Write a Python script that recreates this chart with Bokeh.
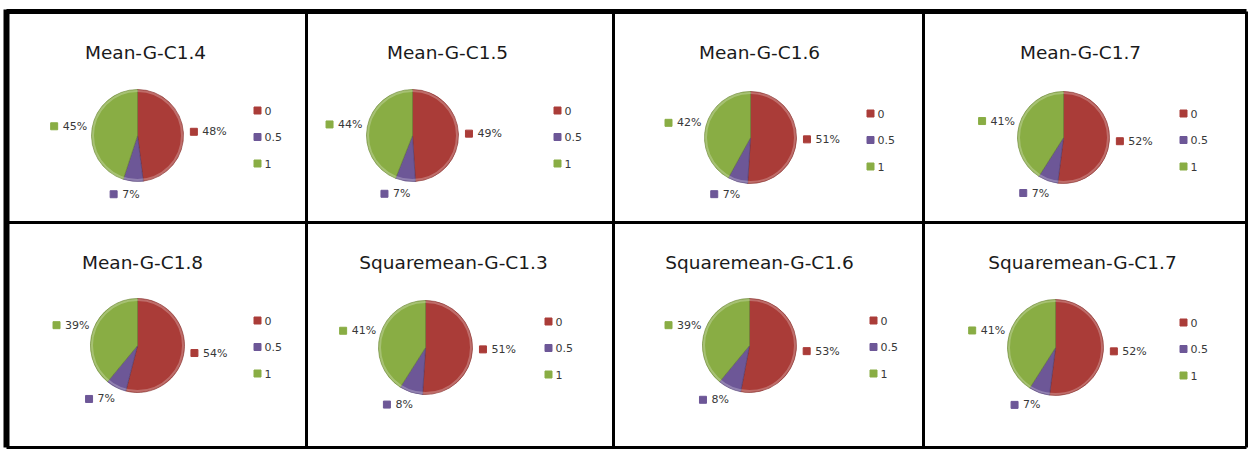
import math
from bokeh.plotting import figure
from bokeh.models import Range1d, ColumnDataSource
from bokeh.core.properties import value
from bokeh.embed import file_html
from bokeh.resources import INLINE

# ---- data ----
titles = ["Mean-G-C1.4", "Mean-G-C1.5", "Mean-G-C1.6", "Mean-G-C1.7",
          "Mean-G-C1.8", "Squaremean-G-C1.3", "Squaremean-G-C1.6", "Squaremean-G-C1.7"]
categories = ["0", "0.5", "1"]
share_0 = [48, 49, 51, 52, 54, 51, 53, 52]
share_05 = [7, 7, 7, 7, 7, 8, 8, 7]
share_1 = [45, 44, 42, 41, 39, 41, 39, 41]

# ---- layout (pixel positions, y measured from the top) ----
pie_cx = [137, 412, 750, 1063, 137, 425, 749, 1055]
pie_cy = [135, 135, 137, 137, 345, 347, 345, 347]
pie_r = [46, 46, 46, 46, 47, 47, 47, 48]
title_x = [145, 447, 759, 1080, 142, 453, 759, 1082]
title_y = [52, 52, 52, 52, 262, 262, 262, 262]
leg_x = [257, 557, 870, 1183, 257, 548, 873, 1183]
leg_y = [110, 110, 113, 113, 320, 321, 320, 322]
col_edges = [6, 306, 613, 923, 1246]
row_edges = [11, 222, 447]

colors = ["#AA3C38", "#6D5797", "#89AD44"]
edge_colors = ["#7E2A27", "#4E3C70", "#647F2F"]

W, H = 1250, 450
p = figure(width=W, height=H, x_range=Range1d(0, W), y_range=Range1d(0, H),
           output_backend="svg", toolbar_location=None, min_border=0)
p.axis.visible = False
p.grid.visible = False
p.outline_line_color = None
p.background_fill_color = "white"
p.border_fill_color = "white"

FY = lambda y: H - y
font = value("DejaVu Sans")

wed = dict(x=[], y=[], r=[], s=[], e=[], c=[], lc=[])
lab_sq = dict(x=[], y=[], c=[])
lab_tx = dict(x=[], y=[], t=[])
leg_sq = dict(x=[], y=[], c=[])
leg_tx = dict(x=[], y=[], t=[])
tit = dict(x=[], y=[], t=[])

for i in range(len(titles)):
    vals = [share_0[i], share_05[i], share_1[i]]
    tot = float(sum(vals))
    cum = 0.0
    cx, cy, r = pie_cx[i], pie_cy[i], pie_r[i]
    for k, v in enumerate(vals):
        f0, f1 = cum / tot, (cum + v) / tot
        cum += v
        wed["x"].append(cx); wed["y"].append(FY(cy)); wed["r"].append(r)
        wed["s"].append(math.pi / 2 - f1 * 2 * math.pi)
        wed["e"].append(math.pi / 2 - f0 * 2 * math.pi)
        wed["c"].append(colors[k]); wed["lc"].append(edge_colors[k])
        # data label outside the slice
        th = (f0 + f1) / 2 * 2 * math.pi
        dx, dy = math.sin(th), -math.cos(th)
        txt = "%d%%" % v
        tw = 6.6 * (len(txt) - 1) + 9.5
        bw, bh = 12 + tw, 12
        ax, ay = cx + (r + 7) * dx, cy + (r + 7) * dy
        bcx, bcy = ax + dx * bw / 2, ay + dy * bh / 2
        if abs(dx) < 0.6:
            bcx -= 7
        left = bcx - bw / 2
        lab_sq["x"].append(left + 3.5); lab_sq["y"].append(FY(bcy)); lab_sq["c"].append(colors[k])
        lab_tx["x"].append(left + 12); lab_tx["y"].append(FY(bcy)); lab_tx["t"].append(txt)
        # legend
        ly = leg_y[i] + 26.5 * k
        leg_sq["x"].append(leg_x[i]); leg_sq["y"].append(FY(ly)); leg_sq["c"].append(colors[k])
        leg_tx["x"].append(leg_x[i] + 7); leg_tx["y"].append(FY(ly)); leg_tx["t"].append(categories[k])
    tit["x"].append(title_x[i]); tit["y"].append(FY(title_y[i])); tit["t"].append(titles[i])

p.wedge(x="x", y="y", radius="r", radius_units="screen", start_angle="s", end_angle="e",
        fill_color="c", line_color="lc", line_alpha=0.6, line_width=1,
        source=ColumnDataSource(wed))
# slight highlight ring for 3D look
p.circle(x=pie_cx, y=[FY(v) for v in pie_cy], radius=[rr - 1.5 for rr in pie_r],
         radius_units="screen", fill_color=None, line_color="white", line_alpha=0.25, line_width=2)

p.scatter(x="x", y="y", color="c", marker="square", size=7, source=ColumnDataSource(lab_sq))
p.text(x="x", y="y", text="t", text_font=font, text_font_size="11px", text_color="#383838",
       text_baseline="middle", text_align="left", source=ColumnDataSource(lab_tx))
p.scatter(x="x", y="y", color="c", marker="square", size=7, source=ColumnDataSource(leg_sq))
p.text(x="x", y="y", text="t", text_font=font, text_font_size="11px", text_color="#383838",
       text_baseline="middle", text_align="left", source=ColumnDataSource(leg_tx))
p.text(x="x", y="y", text="t", text_font=font, text_font_size="18.5px", text_color="#1a1a1a",
       text_baseline="middle", text_align="center", source=ColumnDataSource(tit))

# table borders
x0, x1 = col_edges[0], col_edges[-1]
y0, y1 = row_edges[0], row_edges[-1]
p.segment(x0=[x0], y0=[FY(y0)], x1=[x1], y1=[FY(y0)], line_color="black", line_width=5)
p.segment(x0=[x0], y0=[FY(y0 - 2)], x1=[x0], y1=[FY(y1)], line_color="black", line_width=6)
p.segment(x0=[x1], y0=[FY(y0)], x1=[x1], y1=[FY(y1)], line_color="black", line_width=3)
p.segment(x0=[x0], y0=[FY(y1)], x1=[x1], y1=[FY(y1)], line_color="black", line_width=3)
p.segment(x0=col_edges[1:-1], y0=[FY(y0)] * 3, x1=col_edges[1:-1], y1=[FY(y1)] * 3,
          line_color="black", line_width=3)
p.segment(x0=[x0], y0=[FY(row_edges[1])], x1=[x1], y1=[FY(row_edges[1])],
          line_color="black", line_width=3)

open("out.html", "w").write(file_html(p, INLINE))
